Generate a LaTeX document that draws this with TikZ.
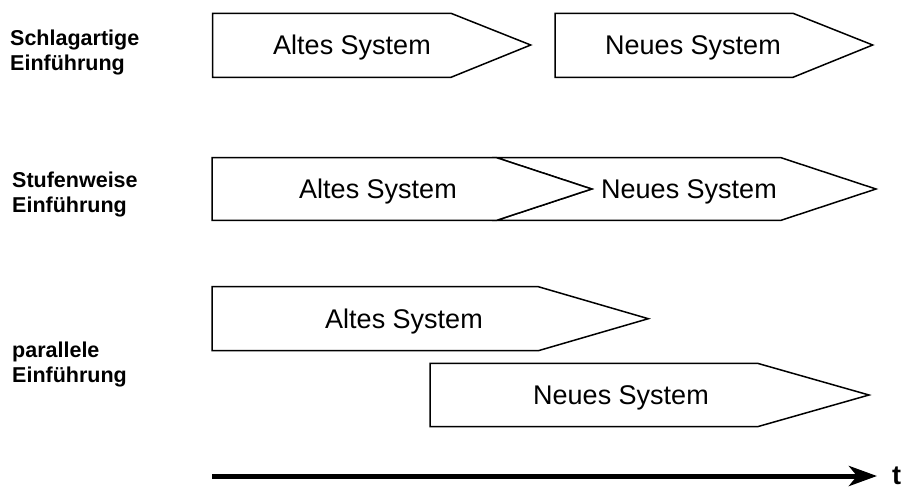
\documentclass[tikz,border=0pt]{standalone}
\usepackage{fontspec}
\setmainfont{Liberation Sans}
\usetikzlibrary{arrows.meta}
\begin{document}
\begin{tikzpicture}[x=1pt,y=-1pt,
  sysbox/.style={draw=black, line width=1.5pt, line join=miter, fill=white},
  systext/.style={font=\fontsize{27}{30}\selectfont, anchor=base, inner sep=0pt},
  rowlabel/.style={font=\fontsize{21.5}{25}\selectfont\bfseries, align=left, anchor=north west, inner sep=0pt},
  timeaxis/.style={line width=5pt, -{Stealth[length=28pt,width=20pt,inset=8pt]}}]
\useasboundingbox[fill=white] (0,0) rectangle (906,491);

% row labels
\node[rowlabel] (l1) at (10,30) {Schlagartige\\Einführung};
\node[rowlabel] (l2) at (12,172) {Stufenweise\\Einführung};
\node[rowlabel] (l3) at (12,342) {parallele\\Einführung};

% row 1: Schlagartige Einführung
\draw[sysbox] (212.7,13.3) -- (451,13.3) -- (530.7,45) -- (451,77.3) -- (212.7,77.3) -- cycle;
\draw[sysbox] (555,13.3) -- (793,13.3) -- (872.7,45) -- (793,77.3) -- (555,77.3) -- cycle;
\node[systext] (a1) at (352,54.5) {Altes System};
\node[systext] (n1) at (693,54.5) {Neues System};

% row 2: Stufenweise Einführung
\draw[sysbox] (496.7,157.7) -- (781,157.7) -- (876,189) -- (781,220.3) -- (496.7,220.3) -- (591.7,189) -- cycle;
\draw[sysbox] (212,157.7) -- (496.7,157.7) -- (591.7,189) -- (496.7,220.3) -- (212,220.3) -- cycle;
\node[systext] (a2) at (378,198.5) {Altes System};
\node[systext] (n2) at (689,198.5) {Neues System};

% row 3: parallele Einführung
\draw[sysbox] (212,286.7) -- (538.3,286.7) -- (648.3,318.7) -- (538.3,350.7) -- (212,350.7) -- cycle;
\draw[sysbox] (430,363.3) -- (757.5,363.3) -- (869,395) -- (757.5,426.7) -- (430,426.7) -- cycle;
\node[systext] (a3) at (404,328) {Altes System};
\node[systext] (n3) at (621,404.5) {Neues System};

% time axis
\node[font=\fontsize{27}{30}\selectfont\bfseries, anchor=west, inner sep=0pt] (t) at (892,476) {t};
\coordinate (tstart) at (212,476);
\coordinate (tend) at (877,476);
\draw[timeaxis] (tstart) -- (tend);
\end{tikzpicture}
\end{document}
